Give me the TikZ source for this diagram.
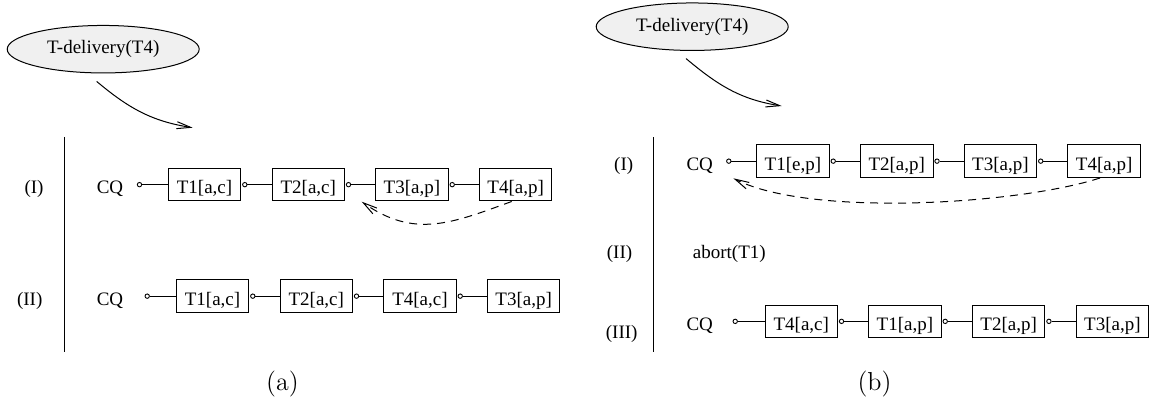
\documentclass[tikz,border=0pt]{standalone}
\usepackage{fontspec}
\newfontfamily\tms{Liberation Serif}
\usetikzlibrary{shapes.geometric,arrows.meta}
\begin{document}
\begin{tikzpicture}[x=0.5pt,y=0.5pt,
  lbl/.style={font=\tms\fontsize{9.5}{11}\selectfont, inner sep=0, anchor=base},
  tbox/.style={draw, line width=0.5pt, font=\tms\fontsize{9.5}{11}\selectfont, inner sep=0,
     minimum width=36.25pt, text height=12.6pt, text depth=3.75pt, anchor=base},
  dot/.style={circle, draw, line width=0.45pt, inner sep=0, minimum size=2.2pt},
  link/.style={line width=0.5pt},
  ev/.style={ellipse, draw, fill=black!6, line width=0.5pt, minimum width=96pt,
     minimum height=23.75pt, inner sep=0, font=\tms\fontsize{9.5}{11}\selectfont},
  arr/.style={line width=0.5pt, -{Straight Barb[length=7pt,width=3.5pt]}},
  darr/.style={arr, dash pattern=on 4pt off 3pt},
  captxt/.style={font=\fontsize{13}{15}\selectfont, inner sep=0, anchor=base}
]
\useasboundingbox (0,0) rectangle (1149,-406);

% ---------- panel (a) ----------
\node[ev] (e1) at (103.2,-49.2) {T-delivery(T4)};
\coordinate (e1t) at (192.7,-127.7);
\draw[arr] ([shift={(-3.25pt,-4pt)}]e1.south) to[out=-40,in=171] (e1t);

\draw[link] (64.5,-137) -- (64.5,-352);

\node[lbl] (aI) at (34,-193.5) {(I)};
\node[lbl] (aq) at (110,-193.5) {CQ};
\node[tbox] (a1) at (204.55,-193.5) {T1[a,c]};
\node[tbox] (a2) at (308.25,-193.5) {T2[a,c]};
\node[tbox] (a3) at (411.95,-193.5) {T3[a,p]};
\node[tbox] (a4) at (515.65,-193.5) {T4[a,p]};
\node[dot] (a0d) at ([xshift=-14.15pt]a1.west) {};
\node[dot] (a1d) at ([xshift=1.75pt]a1.east) {};
\node[dot] (a2d) at ([xshift=1.75pt]a2.east) {};
\node[dot] (a3d) at ([xshift=1.75pt]a3.east) {};
\draw[link] (a0d) -- (a1);
\draw[link] (a1d) -- (a2);
\draw[link] (a2d) -- (a3);
\draw[link] (a3d) -- (a4);
\coordinate (a2t) at (361.7,-201.7);
\draw[darr] ([xshift=-2pt]a4.south) to[out=-160,in=-35,looseness=1.1] (a2t);

\node[lbl] (aII) at (29.7,-305) {(II)};
\node[lbl] (bq) at (110,-305) {CQ};
\node[tbox] (b1) at (212.55,-305) {T1[a,c]};
\node[tbox] (b2) at (316.25,-305) {T2[a,c]};
\node[tbox] (b3) at (419.95,-305) {T4[a,c]};
\node[tbox] (b4) at (523.65,-305) {T3[a,p]};
\node[dot] (b0d) at ([xshift=-14.3pt]b1.west) {};
\node[dot] (b1d) at ([xshift=1.75pt]b1.east) {};
\node[dot] (b2d) at ([xshift=1.75pt]b2.east) {};
\node[dot] (b3d) at ([xshift=1.75pt]b3.east) {};
\draw[link] (b0d) -- (b1);
\draw[link] (b1d) -- (b2);
\draw[link] (b2d) -- (b3);
\draw[link] (b3d) -- (b4);

\node[captxt] (capa) at (282.5,-390) {(a)};

% ---------- panel (b) ----------
\node[ev] (e2) at (692.2,-26.7) {T-delivery(T4)};
\coordinate (e2t) at (781.7,-106);
\draw[arr] ([shift={(-3.1pt,-3.8pt)}]e2.south) to[out=-40,in=171] (e2t);

\draw[link] (653.5,-137.3) -- (653.5,-352.3);

\node[lbl] (cI) at (623.7,-170) {(I)};
\node[lbl] (cq) at (699.7,-170) {CQ};
\node[tbox] (c1) at (792.95,-170) {T1[e,p]};
\node[tbox] (c2) at (896.75,-170) {T2[a,p]};
\node[tbox] (c3) at (1000.45,-170) {T3[a,p]};
\node[tbox] (c4) at (1104.15,-170) {T4[a,p]};
\node[dot] (c0d) at ([xshift=-13.7pt]c1.west) {};
\node[dot] (c1d) at ([xshift=1.75pt]c1.east) {};
\node[dot] (c2d) at ([xshift=1.75pt]c2.east) {};
\node[dot] (c3d) at ([xshift=1.75pt]c3.east) {};
\draw[link] (c0d) -- (c1);
\draw[link] (c1d) -- (c2);
\draw[link] (c2d) -- (c3);
\draw[link] (c3d) -- (c4);
\coordinate (c0t) at (733.3,-178.3);
\draw[darr] ([xshift=-2.1pt]c4.south) to[out=-162,in=-27,looseness=0.6] (c0t);

\node[lbl] (cII) at (619.5,-258.8) {(II)};
\node[lbl] (ab) at (729.3,-258.8) {abort(T1)};

\node[lbl] (cIII) at (621.7,-338.8) {(III)};
\node[lbl] (dq) at (699.7,-330.2) {CQ};
\node[tbox] (d1) at (801.25,-330.2) {T4[a,c]};
\node[tbox] (d2) at (904.95,-330.2) {T1[a,p]};
\node[tbox] (d3) at (1008.65,-330.2) {T2[a,p]};
\node[tbox] (d4) at (1112.35,-330.2) {T3[a,p]};
\node[dot] (d0d) at ([xshift=-14.65pt]d1.west) {};
\node[dot] (d1d) at ([xshift=1.75pt]d1.east) {};
\node[dot] (d2d) at ([xshift=1.75pt]d2.east) {};
\node[dot] (d3d) at ([xshift=1.75pt]d3.east) {};
\draw[link] (d0d) -- (d1);
\draw[link] (d1d) -- (d2);
\draw[link] (d2d) -- (d3);
\draw[link] (d3d) -- (d4);

\node[captxt] (capb) at (874.5,-390) {(b)};
\end{tikzpicture}
\end{document}
